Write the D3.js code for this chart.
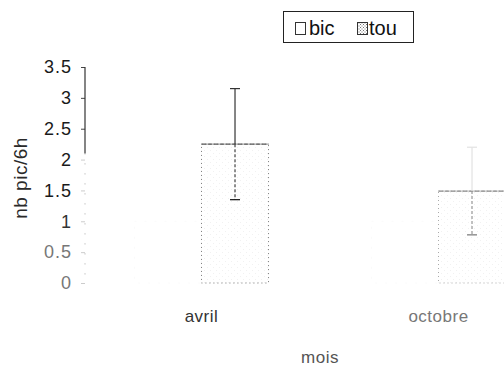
<!DOCTYPE html>
<html>
<head>
<meta charset="utf-8">
<script src="https://cdn.jsdelivr.net/npm/d3@7"></script>
<style>
  html, body { margin: 0; padding: 0; background: #fff; }
  svg { display: block; }
  text { font-family: "Liberation Sans", Arial, sans-serif; }
</style>
</head>
<body>
<svg id="chart" width="504" height="367"></svg>
<script>
// Nombre de pics par 6 h, selon le mois et le type de site
const months = ["avril", "octobre"];
const series = ["bic", "tou"];
const bicValues = [1.0, 1.0];
const touValues = [2.25, 1.49];
const touErrors = [0.9, 0.71];
const yTicks = [0, 0.5, 1, 1.5, 2, 2.5, 3, 3.5];

const svg = d3.select("#chart");
const defs = svg.append("defs");

// stippled fill used for the "tou" series
function stipple(id, color, size) {
  const p = defs.append("pattern").attr("id", id)
    .attr("patternUnits", "userSpaceOnUse").attr("width", size).attr("height", size);
  p.append("rect").attr("width", size).attr("height", size).attr("fill", "#fff");
  p.append("rect").attr("x", 0).attr("y", 0).attr("width", 1).attr("height", 1).attr("fill", color);
  p.append("rect").attr("x", size / 2).attr("y", size / 2).attr("width", 1).attr("height", 1).attr("fill", color);
}
stipple("touFill", "#f1f1f1", 6);
stipple("touLegend", "#777", 3);

const x0 = d3.scaleBand().domain(months).range([83, 557]).paddingInner(0).paddingOuter(0);
const x1 = d3.scaleBand().domain(series).range([0, x0.bandwidth()]).paddingInner(0).paddingOuter(0.768);
const y = d3.scaleLinear().domain([0, 3.5]).range([283, 67]);

// y axis
const yAxis = svg.append("g").attr("transform", "translate(85,0)")
  .call(d3.axisLeft(y).tickValues(yTicks).tickSize(4).tickPadding(9).tickFormat(d3.format("~g")));
yAxis.select(".domain").remove();
yAxis.selectAll(".tick line").attr("stroke", d => d >= 2.5 ? "#444" : "#ccc");
yAxis.selectAll(".tick text")
  .attr("font-size", 18).attr("letter-spacing", 1)
  .attr("fill", d => d >= 1.5 ? "#1a1a1a" : (d >= 1 ? "#333" : "#777"));
// axis line: solid at the top, fading to dots lower down
yAxis.append("line").attr("x1", 0).attr("x2", 0).attr("y1", y(3.5)).attr("y2", y(2.1))
  .attr("stroke", "#333").attr("stroke-width", 1.2);
yAxis.append("line").attr("x1", 0).attr("x2", 0).attr("y1", y(2.1)).attr("y2", y(0))
  .attr("stroke", "#aaa").attr("stroke-dasharray", "1,9");

svg.append("text").attr("transform", `translate(27,178) rotate(-90)`)
  .attr("text-anchor", "middle").attr("font-size", 19).attr("fill", "#2a2a2a")
  .attr("letter-spacing", 0.5).text("nb pic/6h");

const plot = svg.append("g");

// "bic" bars: white, outline almost faded away
plot.selectAll("rect.bic").data(months).join("rect").attr("class", "bic")
  .attr("x", m => x0(m) + x1("bic"))
  .attr("y", (m, i) => y(bicValues[i]))
  .attr("width", x1.bandwidth())
  .attr("height", (m, i) => y(0) - y(bicValues[i]))
  .attr("fill", "none").attr("stroke", "#fafafa").attr("stroke-dasharray", "2,8");

// "tou" bars: stippled grey
const touStroke = ["#777", "#aaa"];
plot.selectAll("rect.tou").data(months).join("rect").attr("class", "tou")
  .attr("x", m => x0(m) + x1("tou"))
  .attr("y", (m, i) => y(touValues[i]))
  .attr("width", x1.bandwidth())
  .attr("height", (m, i) => y(0) - y(touValues[i]))
  .attr("fill", "url(#touFill)")
  .attr("stroke", (m, i) => touStroke[i]).attr("stroke-width", 1)
  .attr("stroke-dasharray", "1,3");
// top edge of each "tou" bar reads darker
plot.selectAll("line.touTop").data(months).join("line").attr("class", "touTop")
  .attr("x1", m => x0(m) + x1("tou"))
  .attr("x2", m => x0(m) + x1("tou") + x1.bandwidth())
  .attr("y1", (m, i) => y(touValues[i])).attr("y2", (m, i) => y(touValues[i]))
  .attr("stroke", (m, i) => i === 0 ? "#555" : "#888").attr("stroke-width", 1.2)
  .attr("stroke-dasharray", "5,1");

// error bars on "tou"
const errUpper = ["#333", "#e2e2e2"];
const errLower = ["#444", "#999"];
months.forEach((m, i) => {
  const cx = x0(m) + x1("tou") + x1.bandwidth() / 2;
  const v = touValues[i];
  const hi = v + touErrors[i], lo = v - touErrors[i];
  const g = plot.append("g").attr("stroke-width", 1.2);
  g.append("line").attr("x1", cx).attr("x2", cx).attr("y1", y(hi)).attr("y2", y(v))
    .attr("stroke", errUpper[i]);
  g.append("line").attr("x1", cx).attr("x2", cx).attr("y1", y(v)).attr("y2", y(lo))
    .attr("stroke", errLower[i]).attr("stroke-dasharray", "3,2");
  g.append("line").attr("x1", cx - 5).attr("x2", cx + 5).attr("y1", y(hi)).attr("y2", y(hi))
    .attr("stroke", errUpper[i]);
  g.append("line").attr("x1", cx - 5).attr("x2", cx + 5).attr("y1", y(lo)).attr("y2", y(lo))
    .attr("stroke", i === 0 ? "#111" : "#777");
});

// category labels
const catColor = ["#333", "#777"];
svg.selectAll("text.cat").data(months).join("text").attr("class", "cat")
  .attr("x", m => x0(m) + x0.bandwidth() / 2)
  .attr("y", 322).attr("text-anchor", "middle").attr("font-size", 17)
  .attr("letter-spacing", 0.5)
  .attr("fill", (m, i) => catColor[i]).text(m => m);

svg.append("text").attr("x", 320).attr("y", 363).attr("text-anchor", "middle")
  .attr("font-size", 17).attr("fill", "#555").attr("letter-spacing", 0.5).text("mois");

// legend
const lg = svg.append("g");
lg.append("rect").attr("x", 283.5).attr("y", 11.5).attr("width", 130).attr("height", 31)
  .attr("fill", "#fff").attr("stroke", "#222").attr("stroke-width", 1);
const legendItems = [
  { name: "bic", sx: 295, tx: 309, fill: "#fff" },
  { name: "tou", sx: 357, tx: 369, fill: "url(#touLegend)" }
];
legendItems.forEach(d => {
  lg.append("rect").attr("x", d.sx + 0.5).attr("y", 22.5).attr("width", 10).attr("height", 12)
    .attr("fill", d.fill).attr("stroke", "#333");
  lg.append("text").attr("x", d.tx).attr("y", 35).attr("font-size", 20)
    .attr("fill", "#111").text(d.name);
});
</script>
</body>
</html>
